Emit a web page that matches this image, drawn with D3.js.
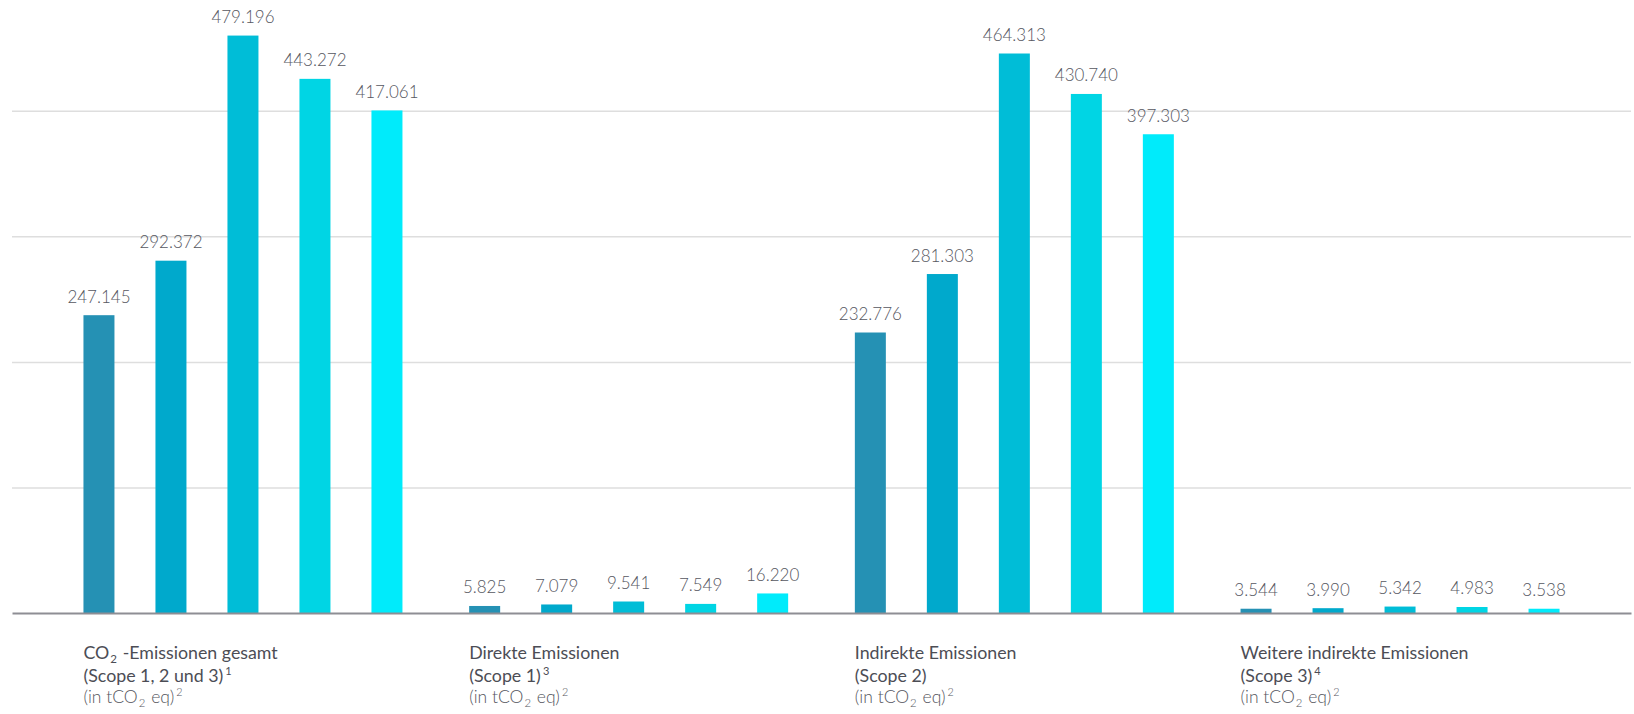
<!DOCTYPE html>
<html>
<head>
<meta charset="utf-8">
<script src="https://cdn.jsdelivr.net/npm/d3@7"></script>
<style>
body{margin:0;background:#fff}
svg{display:block}
text{font-family:Lato,"Open Sans",sans-serif}
</style>
</head>
<body>
<svg id="chart" width="1634" height="714"></svg>
<script>
// categories (groups along the x axis)
var groups = ["total", "scope1", "scope2", "scope3"];
// title lines, {2} marks a subscript
var titles = ["CO{2} -Emissionen gesamt", "Direkte Emissionen", "Indirekte Emissionen", "Weitere indirekte Emissionen"];
var scopes = ["(Scope 1, 2 und 3)", "(Scope 1)", "(Scope 2)", "(Scope 3)"];
var notes = ["1", "3", "", "4"];
// five periods per group (not labelled in the chart)
var series = ["p1", "p2", "p3", "p4", "p5"];
var colors = ["#2591b4", "#00a9cc", "#00bdd7", "#00d5e4", "#00ebfb"];

// values in tCO2 eq
var totalValues = [247145, 292372, 479196, 443272, 417061];
var scope1Values = [5825, 7079, 9541, 7549, 16220];
var scope2Values = [232776, 281303, 464313, 430740, 397303];
var scope3Values = [3544, 3990, 5342, 4983, 3538];

var gridValues = [104200, 208400, 312600, 416800];

var table = [totalValues, scope1Values, scope2Values, scope3Values];
var svg = d3.select("#chart");

var x0 = d3.scaleBand().domain(groups).range([12, 1631]).paddingOuter(0.0988);
var x1 = d3.scaleBand().domain(series).range([0, 360])
	.paddingInner(41 / 72).paddingOuter(41 / 144);
var y = d3.scaleLinear().domain([0, 500000]).range([613, 10.5]);

function groupX(g) {
	return x0(g) + (x0.bandwidth() - 360) / 2;
}

// grid lines
svg.append("g")
	.attr("transform", "translate(12,0)")
	.call(d3.axisLeft(y).tickValues(gridValues).tickSize(-1619).tickFormat(""))
	.call(function(g) {
		g.select(".domain").remove();
		g.selectAll(".tick line").attr("stroke", "#dedede").attr("stroke-width", 1.5);
	});

// bars
var gg = svg.append("g").selectAll("g.group")
	.data(groups)
	.enter().append("g")
	.attr("class", "group")
	.attr("transform", function(g) { return "translate(" + groupX(g) + ",0)"; });

gg.selectAll("rect")
	.data(function(g, i) { return table[i].map(function(v, j) { return {s: series[j], v: v}; }); })
	.enter().append("rect")
	.attr("x", function(d) { return x1(d.s); })
	.attr("width", x1.bandwidth())
	.attr("y", function(d) { return y(d.v); })
	.attr("height", function(d) { return y(0) - y(d.v); })
	.attr("fill", function(d, j) { return colors[j]; });

var fmt = d3.formatLocale({decimal: ",", thousands: ".", grouping: [3], currency: ["", "€"]}).format(",");

gg.selectAll("text.val")
	.data(function(g, i) { return table[i].map(function(v, j) { return {s: series[j], v: v}; }); })
	.enter().append("text")
	.attr("class", "val")
	.attr("x", function(d) { return x1(d.s) + x1.bandwidth() / 2; })
	.attr("y", function(d) { return y(d.v) - 12.5; })
	.attr("text-anchor", "middle")
	.attr("font-size", 17)
	.attr("font-weight", 300)
	.attr("fill", "#56575f")
	.text(function(d) { return fmt(d.v); });

// base line
svg.append("g")
	.attr("transform", "translate(0," + y(0) + ")")
	.call(d3.axisBottom(x0).tickSize(0).tickSizeOuter(0).tickFormat(""))
	.call(function(g) {
		g.select(".domain").attr("stroke", "#8e8e94").attr("stroke-width", 2);
	});

// category labels
function addRich(text, str) {
	var parts = str.split(/\{(\d)\}/);
	parts.forEach(function(p, k) {
		if (!p) return;
		if (k % 2 == 1) {
			text.append("tspan").attr("font-size", "0.65em").attr("dy", 4).attr("dx", 1).text(p);
			text.append("tspan").attr("dy", -4).text("\u200a");
		} else {
			text.append("tspan").text(p);
		}
	});
}
function addSup(text, s) {
	if (!s) return;
	text.append("tspan").attr("font-size", "0.62em").attr("dy", -7).attr("dx", 2).text(s);
}

var lab = svg.append("g").selectAll("g.lab")
	.data(groups)
	.enter().append("g")
	.attr("class", "lab")
	.attr("transform", function(g) { return "translate(" + (groupX(g) + x1(series[0])) + ",0)"; });

lab.each(function(g, i) {
	var el = d3.select(this);
	var t1 = el.append("text").attr("y", 659).attr("font-size", 17.8).attr("fill", "#4c4d55");
	addRich(t1, titles[i]);
	var t2 = el.append("text").attr("y", 682).attr("font-size", 17.8).attr("fill", "#4c4d55");
	t2.append("tspan").text(scopes[i]);
	addSup(t2, notes[i]);
	var t3 = el.append("text").attr("y", 703).attr("font-size", 17.5).attr("font-weight", 300).attr("fill", "#55565e");
	addRich(t3, "(in tCO{2} eq)");
	addSup(t3, "2");
});
</script>
</body>
</html>
